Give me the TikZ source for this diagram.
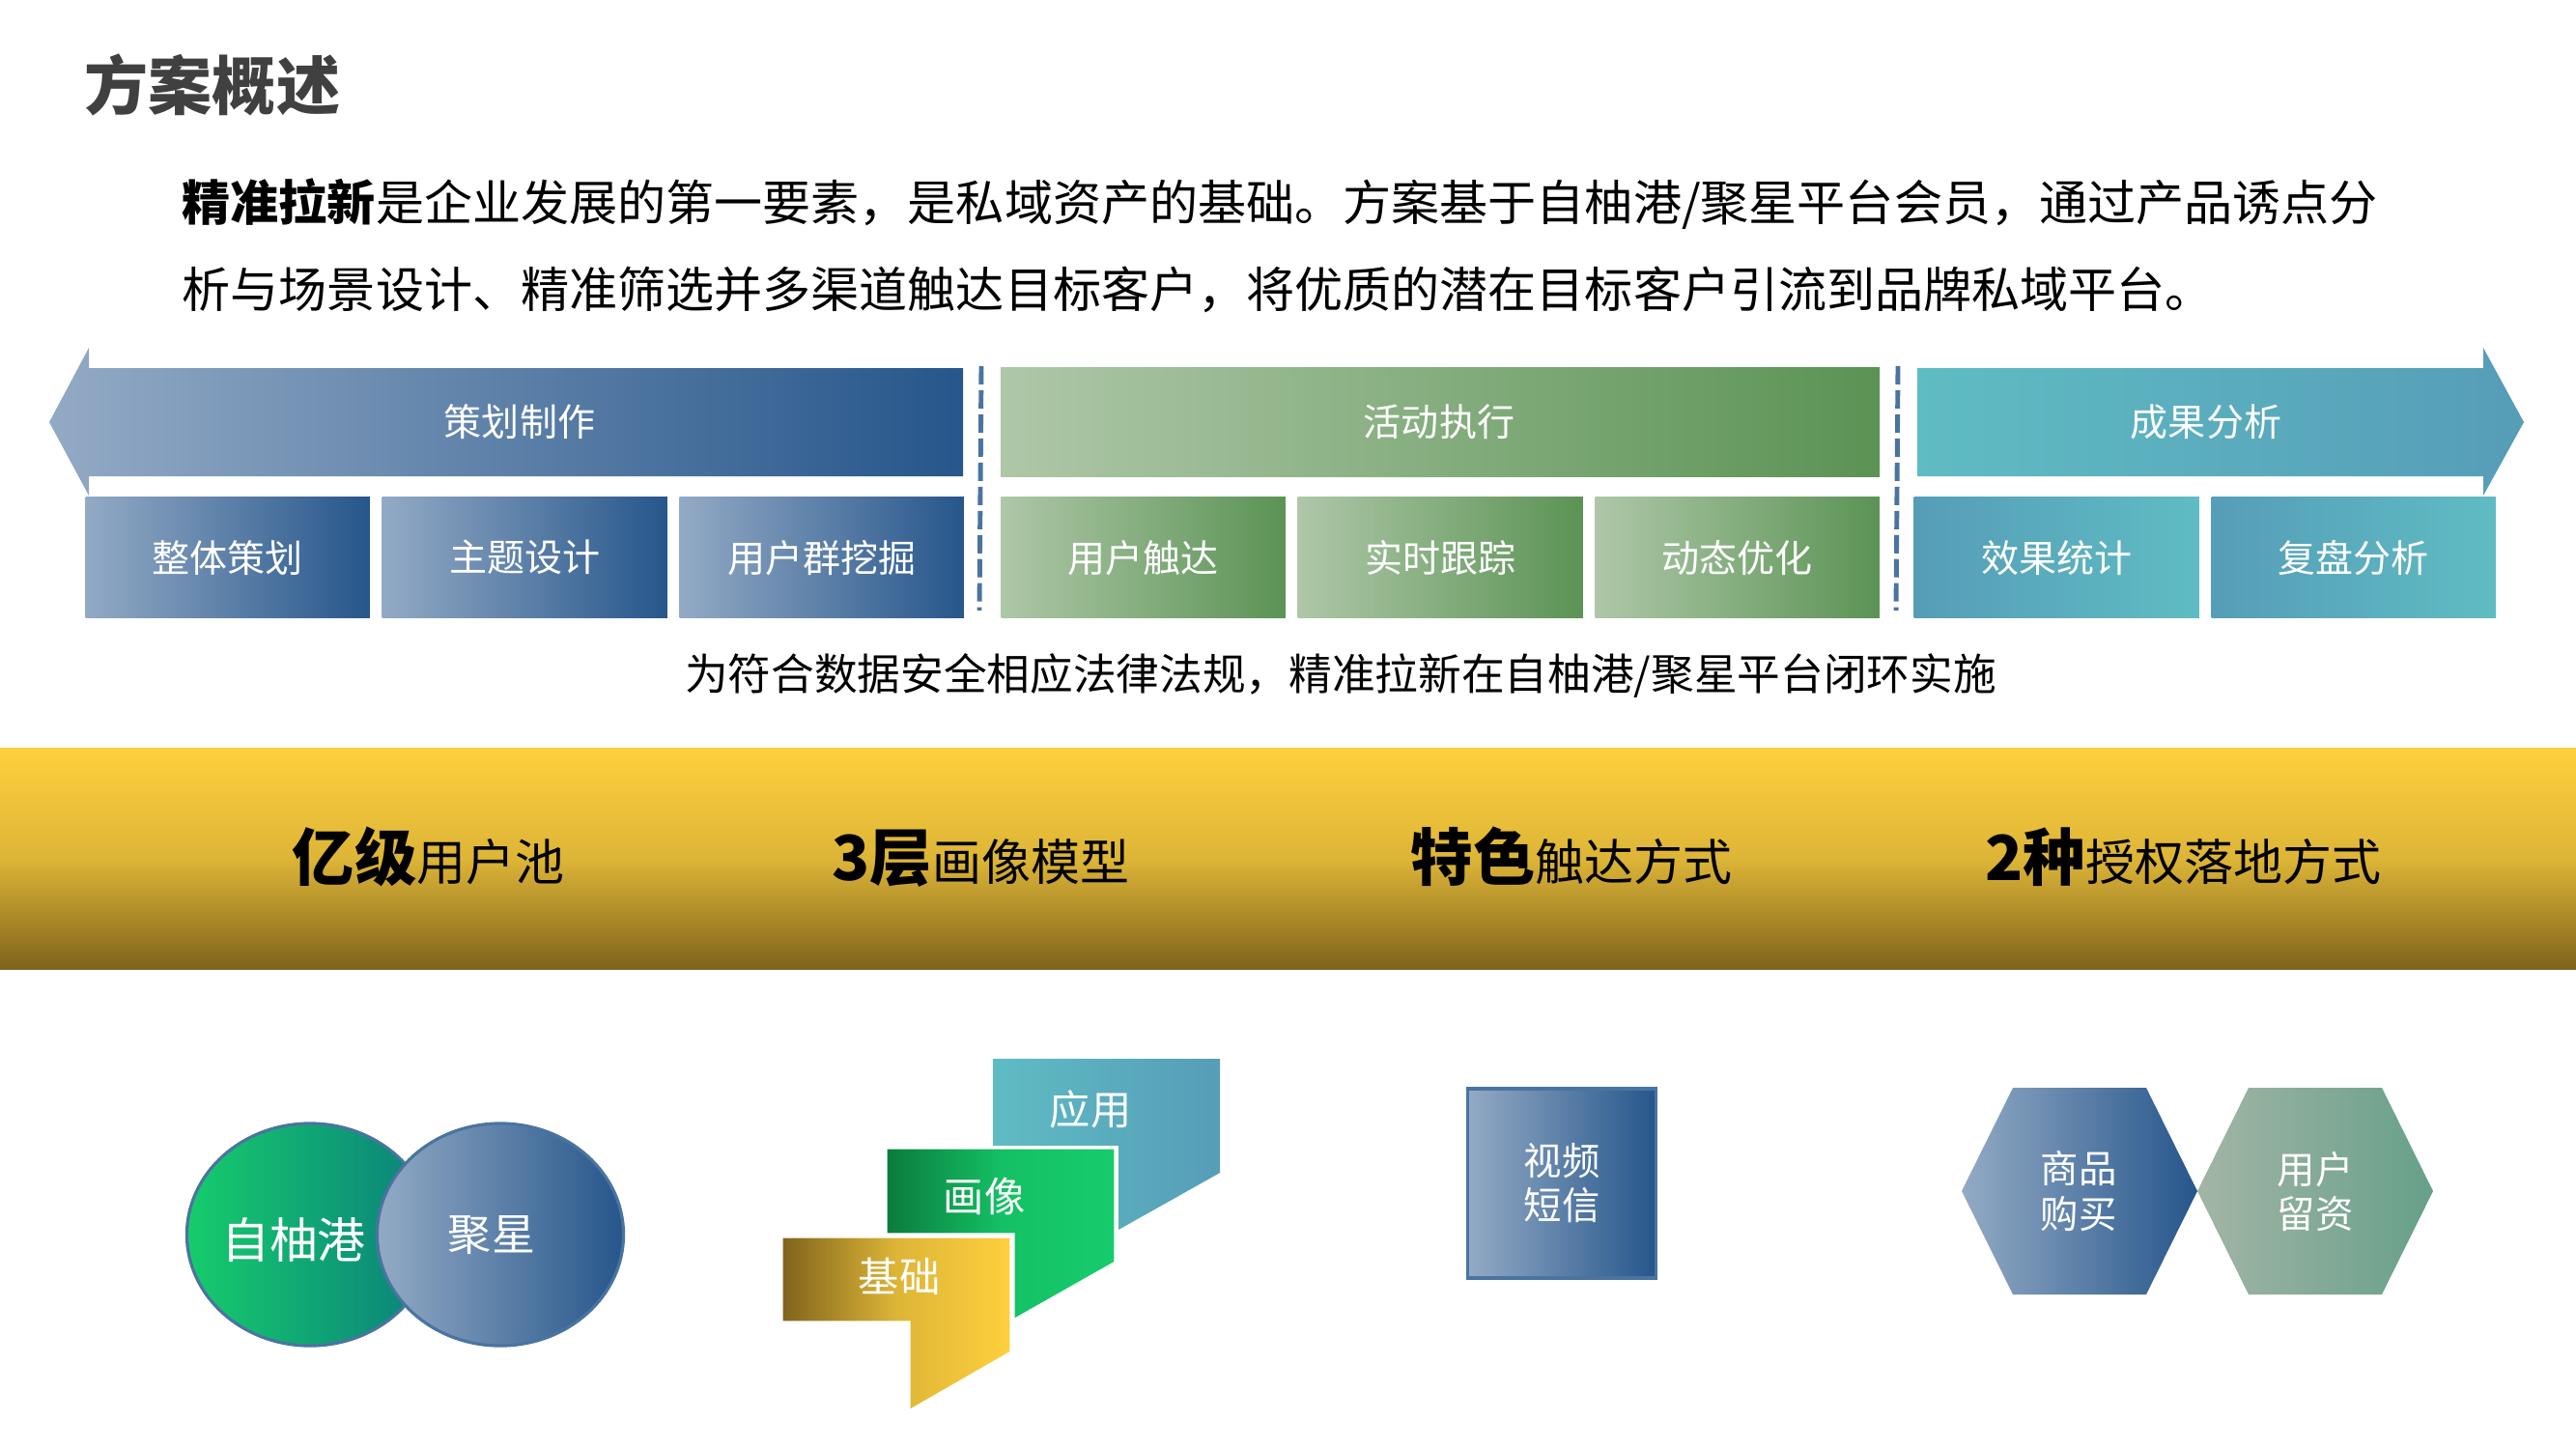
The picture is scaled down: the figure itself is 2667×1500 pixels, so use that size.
\documentclass[tikz,border=0pt]{standalone}
\usepackage{fontspec}
\setmainfont{Noto Sans CJK SC}
\usetikzlibrary{shapes.geometric}

\definecolor{blueL}{HTML}{93AAC5}
\definecolor{blueR}{HTML}{26568B}
\definecolor{greenL}{HTML}{AEC7A8}
\definecolor{greenR}{HTML}{5B9354}
\definecolor{tealL}{HTML}{5FBCC3}
\definecolor{tealR}{HTML}{569DB8}
\definecolor{emerL}{HTML}{16CC6C}
\definecolor{emerD}{HTML}{0B7A3C}
\definecolor{emerT}{HTML}{0A7F7C}
\definecolor{goldL}{HTML}{80631C}
\definecolor{goldM}{HTML}{DDB537}
\definecolor{goldR}{HTML}{FFD03D}
\definecolor{sageL}{HTML}{A3B5A5}
\definecolor{sageR}{HTML}{66A08A}
\definecolor{edgeB}{HTML}{4A74A0}

\tikzset{
    flowbox/.style={anchor=north west, minimum height=1.25cm, inner sep=0pt, text=white,
        font=\fontsize{11.1}{13}\selectfont},
    bluebox/.style={flowbox, left color=blueL, right color=blueR},
    greenbox/.style={flowbox, left color=greenL, right color=greenR},
    tealbox/.style={flowbox, left color=tealR, right color=tealL},
    headtext/.style={text=white, font=\fontsize{11.1}{13}\selectfont},
    stacktext/.style={text=white, font=\fontsize{12}{14}\selectfont},
    twolines/.style={text=white, align=center, font=\fontsize{11.2}{13.1}\selectfont},
    circlenode/.style={ellipse, draw=edgeB, line width=0.9pt, minimum width=2.55cm,
        minimum height=2.3cm, inner sep=0pt},
    bandtext/.style={anchor=base west, inner sep=0pt},
    divider/.style={edgeB, line width=1.4pt, dash pattern=on 5.4pt off 1.7pt}
}
\newcommand{\bandbig}{\bfseries\fontsize{18.3}{22}\selectfont}
\newcommand{\bandsmall}{\mdseries\fontsize{14.5}{17}\selectfont}

\begin{document}
\begin{tikzpicture}[x=0.01cm,y=-0.01cm]
    \useasboundingbox (0,0) rectangle (2667,1500);

    % Heading and intro
    \node[anchor=west, inner sep=0pt, text=black!75, font=\bfseries\fontsize{18.8}{22}\selectfont] (title) at (87,88) {方案概述};
    \node[anchor=west, inner sep=0pt, font=\fontsize{14.24}{17}\selectfont] (introA) at (188,211) {{\bfseries 精准拉新}是企业发展的第一要素，是私域资产的基础。方案基于自柚港/聚星平台会员，通过产品诱点分};
    \node[anchor=west, inner sep=0pt, font=\fontsize{14.24}{17}\selectfont] (introB) at (188,300) {析与场景设计、精准筛选并多渠道触达目标客户，将优质的潜在目标客户引流到品牌私域平台。};

    % Top arrows
    \shade[left color=blueL, right color=blueR] (51,437) -- (92,360) -- (92,381) -- (997,381) -- (997,493) -- (92,493) -- (92,513) -- cycle;
    \shade[left color=greenL, right color=greenR] (1036,380) rectangle (1946,493);
    \shade[left color=tealL, right color=tealR] (1985,381) -- (2571,381) -- (2571,360) -- (2613,437) -- (2571,513) -- (2571,493) -- (1985,493) -- cycle;
    \node[headtext] (plan) at (538,437) {策划制作};
    \node[headtext] (run) at (1490,437) {活动执行};
    \node[headtext] (result) at (2284,437) {成果分析};

    % Dividers
    \coordinate (divAtop) at (1016,379);
    \coordinate (divAend) at (1014,632);
    \coordinate (divBtop) at (1965,379);
    \coordinate (divBend) at (1963,632);
    \draw[divider] (divAtop) -- (divAend);
    \draw[divider] (divBtop) -- (divBend);

    % Step boxes
    \node[bluebox, minimum width=2.94cm] (whole) at (88,514) {整体策划};
    \node[bluebox, minimum width=2.95cm] (theme) at (395,514) {主题设计};
    \node[bluebox, minimum width=2.94cm] (crowd) at (703,514) {用户群挖掘};
    \node[greenbox, minimum width=2.94cm] (reach) at (1036,514) {用户触达};
    \node[greenbox, minimum width=2.95cm] (track) at (1343,514) {实时跟踪};
    \node[greenbox, minimum width=2.94cm] (tune) at (1651,514) {动态优化};
    \node[tealbox, minimum width=2.95cm] (stats) at (1981,514) {效果统计};
    \node[tealbox, minimum width=2.94cm] (review) at (2289,514) {复盘分析};

    \node[font=\fontsize{12.7}{15}\selectfont, inner sep=0pt] (note) at (1388,699) {为符合数据安全相应法律法规，精准拉新在自柚港/聚星平台闭环实施};

    % Gold band
    \shade[top color=goldR, bottom color=goldL, middle color=goldM] (0,774) rectangle (2667,1003);
    \node[bandtext] (pool) at (302,911) {{\bandbig 亿级}{\bandsmall 用户池}};
    \node[bandtext] (layer) at (861,911) {{\bandbig 3层}{\bandsmall 画像模型}};
    \node[bandtext] (touch) at (1460,911) {{\bandbig 特色}{\bandsmall 触达方式}};
    \node[bandtext] (auth) at (2055,911) {{\bandbig 2种}{\bandsmall 授权落地方式}};

    % Two platforms
    \node[circlenode, left color=emerL, right color=emerT] (ziyou) at (321,1278) {};
    \node[circlenode, left color=blueL, right color=blueR] (juxing) at (518,1278) {};
    \node[text=white, font=\fontsize{14.2}{16}\selectfont] (ziyouText) at (304,1283) {自柚港};
    \node[text=white, font=\fontsize{12.8}{15}\selectfont] (juxingText) at (509,1279) {聚星};

    % Three layers
    \shade[left color=tealL, right color=tealR] (1028,1096) -- (1263,1096) -- (1263,1214) -- (1158,1273) -- (1158,1186) -- (1028,1186) -- cycle;
    \shadedraw[draw=white, line width=0.9pt, left color=emerD, right color=emerL, middle color=emerL!85!emerD] (917,1188) -- (1155,1188) -- (1155,1307) -- (1049,1367) -- (1049,1278) -- (917,1278) -- cycle;
    \shadedraw[draw=white, line width=0.9pt, left color=goldL, right color=goldR, middle color=goldM] (809,1280) -- (1047,1280) -- (1047,1400) -- (941,1461) -- (941,1369) -- (809,1369) -- cycle;
    \node[stacktext] (apply) at (1129,1148) {应用};
    \node[stacktext] (portrait) at (1019,1238) {画像};
    \node[stacktext] (basis) at (931,1321) {基础};

    % Channel box
    \node[draw=edgeB, line width=0.9pt, left color=blueL, right color=blueR, twolines, minimum width=1.95cm, minimum height=1.96cm, inner sep=0pt] (video) at (1617,1225) {视频\\短信};

    % Hexagons
    \shade[left color=blueL, right color=blueR] (2031,1233) -- (2084,1126) -- (2222,1126) -- (2275,1233) -- (2222,1340) -- (2084,1340) -- cycle;
    \shade[left color=sageL, right color=sageR] (2275,1233) -- (2328,1126) -- (2466,1126) -- (2519,1233) -- (2466,1340) -- (2328,1340) -- cycle;
    \node[twolines] (buy) at (2152,1233) {商品\\购买};
    \node[twolines] (keep) at (2397,1233) {用户\\留资};
\end{tikzpicture}
\end{document}
